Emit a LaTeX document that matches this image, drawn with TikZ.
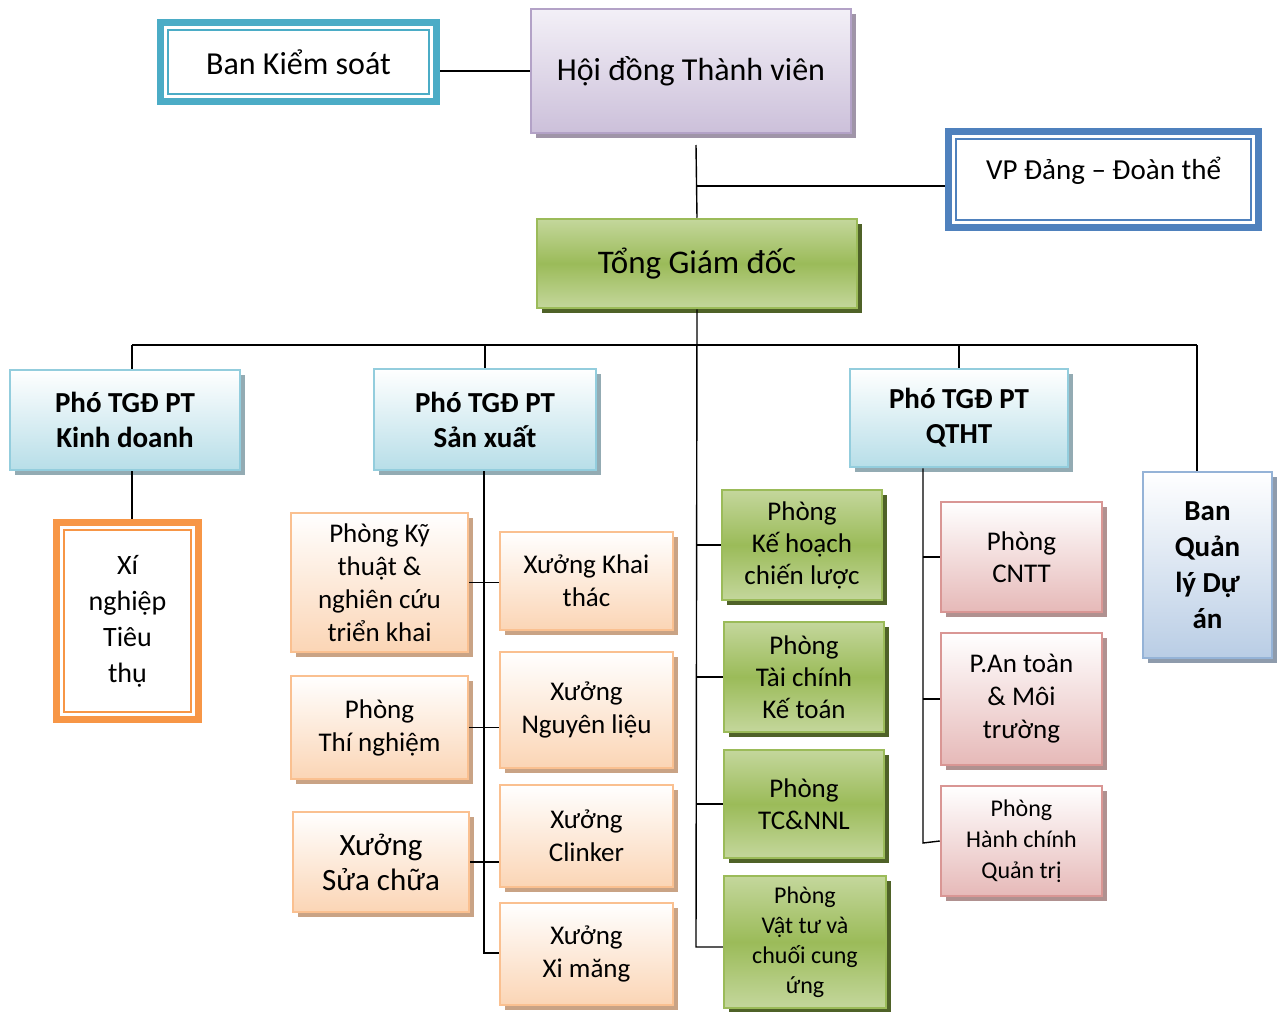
\documentclass[tikz,border=0pt]{standalone}
\usepackage{fontspec}
\setmainfont{Carlito}
\usetikzlibrary{shadows}

\definecolor{tealline}{HTML}{4BACC6}
\definecolor{vpline}{HTML}{4F81BD}
\definecolor{xnline}{HTML}{F79646}
\definecolor{purpleline}{HTML}{B3A2C7}
\definecolor{purpletop}{HTML}{F3F0F7}
\definecolor{purplebot}{HTML}{CCC0DA}
\definecolor{purpleshadow}{HTML}{A095A8}
\definecolor{greenline}{HTML}{9BBB59}
\definecolor{greenlight}{HTML}{C4D79C}
\definecolor{greenshadow}{HTML}{4F6228}
\definecolor{cyanline}{HTML}{93CDDD}
\definecolor{cyanbot}{HTML}{B7DEE8}
\definecolor{cyanshadow}{HTML}{93ABB3}
\definecolor{orangeline}{HTML}{FAC090}
\definecolor{orangebot}{HTML}{FBD5B5}
\definecolor{orangeshadow}{HTML}{C9A385}
\definecolor{pinkline}{HTML}{D99694}
\definecolor{pinkbot}{HTML}{E6B9B8}
\definecolor{pinkshadow}{HTML}{B09190}
\definecolor{blueline}{HTML}{95B3D7}
\definecolor{bluebot}{HTML}{B9CDE5}
\definecolor{blueshadow}{HTML}{8E9BAC}

\tikzset{
  box/.style={rectangle, align=center, line width=2.5pt, inner sep=2pt},
  shade5/.style={general shadow={fill=#1, shadow xshift=5pt, shadow yshift=-5pt}},
  framebox/.style={rectangle, align=center, draw=#1, line width=7pt, fill=white},
  innerframe/.style={rectangle, draw=#1, line width=1.6pt, inner sep=0pt},
  purplebox/.style={box, draw=purpleline, top color=purpletop, bottom color=purplebot, shade5=purpleshadow},
  greenbox/.style={box, draw=greenline, top color=greenlight, bottom color=greenlight, middle color=greenline, shade5=greenshadow},
  phobox/.style={box, draw=cyanline, top color=white, bottom color=cyanbot, shade5=cyanshadow,
    font=\bfseries\fontsize{29}{35}\selectfont},
  orangebox/.style={box, draw=orangeline, top color=white, bottom color=orangebot, shade5=orangeshadow,
    font=\fontsize{27}{33}\selectfont},
  pinkbox/.style={box, draw=pinkline, top color=white, bottom color=pinkbot, shade5=pinkshadow,
    font=\fontsize{27}{32}\selectfont},
  bluebox/.style={box, draw=blueline, top color=white, bottom color=bluebot, shade5=blueshadow,
    font=\bfseries\fontsize{29}{36}\selectfont},
  link/.style={line width=1.4pt}
}

\begin{document}
\begin{tikzpicture}[x=1pt,y=-1pt]
\useasboundingbox (0,0) rectangle (1278,1012);

% top level
\node[framebox=tealline, minimum width=276, minimum height=79, font=\fontsize{32}{38}\selectfont]
  (bks) at (298.5,62) {Ban Kiểm soát};
\node[innerframe=tealline, minimum width=261, minimum height=64] (bksin) at (bks.center) {};
\node[purplebox, minimum width=320, minimum height=124, font=\fontsize{32}{38}\selectfont]
  (hdtv) at (691,71) {Hội đồng Thành viên};
\node[framebox=vpline, minimum width=310, minimum height=96, text depth=22pt, font=\fontsize{29}{35}\selectfont]
  (vp) at (1103.5,179.5) {VP Đảng -- Đoàn thể};
\node[innerframe=vpline, minimum width=295, minimum height=81] (vpin) at (vp.center) {};
\node[greenbox, minimum width=320, minimum height=89, font=\fontsize{33}{39}\selectfont]
  (tgd) at (697,263.5) {Tổng Giám đốc};

% deputies
\node[phobox, minimum width=230, minimum height=100] (kd) at (125,420) {Phó TGĐ PT\\Kinh doanh};
\node[phobox, minimum width=222, minimum height=101] (sx) at (485,419.5) {Phó TGĐ PT\\Sản xuất};
\node[phobox, minimum width=218, minimum height=98] (qt) at (959,418) {Phó TGĐ PT\\QTHT};
\node[bluebox, minimum width=129, minimum height=186] (bql) at (1207.5,565) {Ban\\Quản\\lý Dự\\án};

\node[framebox=xnline, minimum width=142, minimum height=197, font=\fontsize{28}{36}\selectfont]
  (xntt) at (127.5,621) {Xí\\nghiệp\\Tiêu\\thụ};
\node[innerframe=xnline, minimum width=127, minimum height=182] (xnttin) at (xntt.center) {};

% san xuat
\node[orangebox, minimum width=177, minimum height=139] (ktnc) at (379.5,582.5) {Phòng Kỹ\\thuật \&\\nghiên cứu\\triển khai};
\node[orangebox, minimum width=177, minimum height=103] (tn) at (379.5,727.5) {Phòng\\Thí nghiệm};
\node[orangebox, minimum width=176, minimum height=100, font=\fontsize{31}{35}\selectfont]
  (sc) at (381,862) {Xưởng\\Sửa chữa};
\node[orangebox, minimum width=173, minimum height=98] (kt) at (586.5,581) {Xưởng Khai\\thác};
\node[orangebox, minimum width=173, minimum height=116] (nl) at (586.5,710) {Xưởng\\Nguyên liệu};
\node[orangebox, minimum width=173, minimum height=102] (ck) at (586.5,836) {Xưởng\\Clinker};
\node[orangebox, minimum width=173, minimum height=102] (xm) at (586.5,954) {Xưởng\\Xi măng};

% phong ban truc thuoc
\node[greenbox, minimum width=160, minimum height=110, font=\fontsize{27}{32}\selectfont]
  (khcl) at (802,545) {Phòng\\Kế hoạch\\chiến lược};
\node[greenbox, minimum width=160, minimum height=110, font=\fontsize{27}{32}\selectfont]
  (tckt) at (804,677) {Phòng\\Tài chính\\Kế toán};
\node[greenbox, minimum width=160, minimum height=108, font=\fontsize{27}{32}\selectfont]
  (tcnnl) at (804,804) {Phòng\\TC\&NNL};
\node[greenbox, minimum width=162, minimum height=132, font=\fontsize{24}{30}\selectfont]
  (vt) at (805,942) {Phòng\\Vật tư và\\chuối cung\\ứng};

% qtht
\node[pinkbox, minimum width=161, minimum height=110] (cntt) at (1021.5,557) {Phòng\\CNTT};
\node[pinkbox, minimum width=161, minimum height=132, font=\fontsize{27}{33}\selectfont]
  (atmt) at (1021.5,699) {P.An toàn\\\& Môi\\trường};
\node[pinkbox, minimum width=161, minimum height=110, font=\fontsize{24}{31}\selectfont]
  (hc) at (1021.5,841) {Phòng\\Hành chính\\Quản trị};

% connectors
\coordinate (top) at (696,145);
\coordinate (vpj) at (696,186);
\coordinate (busL) at (132,345);
\coordinate (busR) at (1197,345);
\coordinate (gend) at (696,947);
\coordinate (sxend) at (484,953);
\coordinate (qend) at (923,843);

\draw[link] (hdtv.west) -- (bks.east |- hdtv.west);
\draw[link] (top) -- (tgd.north);
\draw[link] (vpj) -- (vpj -| vp.west);
\draw[link] (busL) -- (busR);
\draw[link] (tgd.south) -- (gend) -- (gend -| vt.west);
\draw[link] (busL) -- (busL |- kd.north);
\draw[link] (sx.north |- busL) -- (sx.north);
\draw[link] (qt.north |- busL) -- (qt.north);
\draw[link] (busR) -- (busR |- bql.north);
\draw[link] (busL |- kd.south) -- (busL |- xntt.north);

\draw[link] (sx.south -| sxend) -- (sxend) -- (sxend -| xm.west);
\draw[link] (ktnc.east) -- (ktnc.east -| kt.west);
\draw[link] (tn.east) -- (tn.east -| nl.west);
\draw[link] (sc.east) -- (sc.east -| ck.west);

\foreach \n in {khcl,tckt,tcnnl}
  \draw[link] (\n.west -| gend) -- (\n.west);

\draw[link] (qt.south -| qend) -- (qend) -- (hc.west);
\foreach \n in {cntt,atmt}
  \draw[link] (\n.west -| qend) -- (\n.west);
\end{tikzpicture}
\end{document}
